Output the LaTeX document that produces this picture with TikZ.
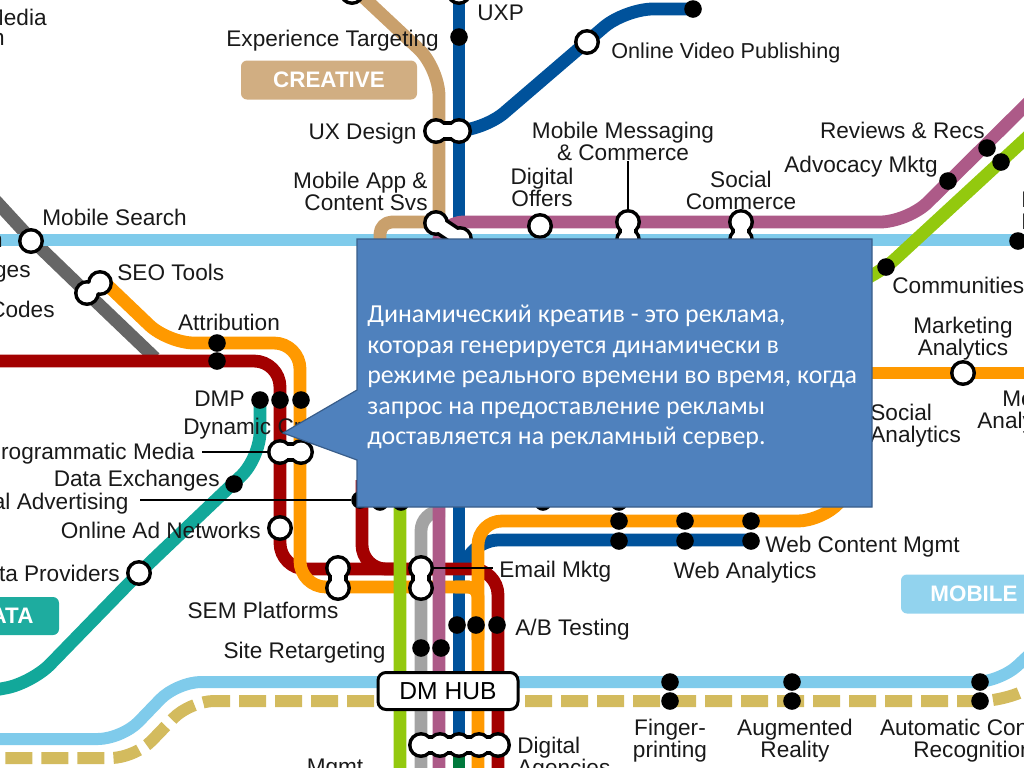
\documentclass[tikz,border=0pt]{standalone}
\usepackage{fontspec}
\setmainfont{Liberation Sans}
\newfontfamily\calloutfont{Carlito}
\usetikzlibrary{arrows.meta,positioning,calc}
\definecolor{lnGrey}{HTML}{666666}
\definecolor{lnSilver}{HTML}{A3A3A3}
\definecolor{lnTan}{HTML}{C9A06C}
\definecolor{lnSky}{HTML}{7FCBEB}
\definecolor{lnBlue}{HTML}{00529B}
\definecolor{lnGreen}{HTML}{007A3D}
\definecolor{lnRed}{HTML}{A30000}
\definecolor{lnOrange}{HTML}{FF9900}
\definecolor{lnPlum}{HTML}{AD5A88}
\definecolor{lnLime}{HTML}{93C90E}
\definecolor{lnTeal}{HTML}{12A89A}
\definecolor{lnKhaki}{HTML}{D3BB5E}
\definecolor{boxBlue}{HTML}{4F81BD}
\definecolor{boxEdge}{HTML}{385D8A}
\tikzset{
  metro/.style={draw=#1, line width=6.4pt, line join=round},
  stndot/.style={circle, fill=black, inner sep=0pt, minimum size=8.8pt},
  ringout/.style={circle, fill=black, inner sep=0pt, minimum size=13pt},
  ringin/.style={circle, fill=white, inner sep=0pt, minimum size=9.4pt},
  neckout/.style={draw=black, line width=9.6pt},
  neckin/.style={draw=white, line width=6pt},
  lbl/.style={inner sep=0pt, text=black!90, font=\fontsize{11.3}{11}\selectfont},
  lbllong/.style={lbl, align=center},
  tagbox/.style={rectangle, rounded corners=3pt, fill=#1, text=white, inner sep=0pt,
                 font=\fontsize{11.2}{11}\selectfont\bfseries},
  leader/.style={draw=black, line width=0.75pt},
}
\begin{document}
\begin{tikzpicture}[x=0.5pt, y=-0.5pt]
  \useasboundingbox (0,0) rectangle (1024,767);
  \clip (0,0) rectangle (1024,767);
  % lines
  \draw[metro=lnGrey] (-5,200) -- (30,238) -- (87,293) -- (155,358);
  \draw[metro=lnSky, line width=6pt] (-5,240) -- (1030,240);
  \draw[metro=lnSky, line width=6pt, rounded corners=12pt] (-5,739) -- (122,739) -- (177,682) -- (400,682);
  \draw[metro=lnSky, line width=6pt, rounded corners=12pt] (500,682) -- (1000,682) -- (1045,640);
  \draw[metro=lnKhaki, line width=6pt, dash pattern=on 13.5pt off 4.5pt, rounded corners=12pt] (374,701) -- (190,701) -- (135,758) -- (-5,758);
  \draw[metro=lnKhaki, line width=6pt, dash pattern=on 13.5pt off 4.5pt, rounded corners=12pt] (525,701) -- (1005,701) -- (1045,680);
  \draw[metro=lnTan, rounded corners=14pt] (345,-20) -- (439,68) -- (439,222);
  \draw[metro=lnTan, rounded corners=6pt] (436,222) -- (380,222) -- (380,250);
  \draw[metro=lnBlue] (459,-5) -- (459,750);
  \draw[metro=lnGreen] (459,750) -- (459,772);
  \draw[metro=lnBlue, rounded corners=14pt] (459,131) -- (483,131) -- (625,9) -- (693,9);
  \draw[metro=lnBlue, rounded corners=8pt] (751,540) -- (482,540) -- (459,568);
  \draw[metro=lnRed, rounded corners=13pt] (-5,361) -- (280,361) -- (280,569) -- (498,569) -- (498,772);
  \draw[metro=lnRed, rounded corners=12pt] (362,480) -- (362,569) -- (405,569);
  \draw[metro=lnOrange, rounded corners=13pt] (100,278) -- (168,343) -- (300,343) -- (300,587) -- (470,587);
  \draw[metro=lnOrange, rounded corners=5pt] (455,587) -- (478,587) -- (478,640);
  \draw[metro=lnOrange] (1030,373) -- (800,373);
  \draw[metro=lnOrange, rounded corners=12pt] (860,480) -- (822,521) -- (478,521) -- (478,772);
  \draw[metro=lnTeal, rounded corners=13pt] (260,395) -- (260,458) -- (139,573) -- (32,683) -- (-5,690);
  \draw[metro=lnSilver, rounded corners=10pt] (445,511) -- (421,511) -- (421,772);
  \draw[metro=lnPlum, rounded corners=14pt] (1040,91) -- (908,222) -- (436,222) -- (439,300) -- (439,772);
  \draw[metro=lnLime, rounded corners=10pt] (1035,130) -- (880,273) -- (400,470) -- (400,772);
  % stations
  \def\ringlist{ringTarget/352/-8, ringUxpTop/459/-8, ringVideo/587/42,
    ringUxA/436/131, ringUxB/459/131, ringAppA/436/223, ringAppB/460/239,
    ringOffers/540/226, ringMsgA/628/222, ringMsgB/628/240, ringComA/741/222, ringComB/741/240,
    ringSearch/31/241, ringSeoA/87/293, ringSeoB/100/283, ringMktAn/963/373,
    ringProgA/280/452, ringProgB/301/452, ringNetw/280/528, ringProv/139/573,
    ringSemA/338/568, ringSemB/338/588, ringMailA/421/568, ringMailB/421/588,
    ringDigA/421/745, ringDigB/440/745, ringDigC/459/745, ringDigD/479/745, ringDigE/498/745}
  \def\necklist{ringUxA/ringUxB, ringAppA/ringAppB, ringMsgA/ringMsgB, ringComA/ringComB, ringSeoA/ringSeoB,
    ringProgA/ringProgB, ringSemA/ringSemB, ringMailA/ringMailB,
    ringDigA/ringDigB, ringDigB/ringDigC, ringDigC/ringDigD, ringDigD/ringDigE}
  \foreach \n/\x/\y in \ringlist {\node[ringout] (\n) at (\x,\y) {};}
  \foreach \a/\b in \necklist {\draw[neckout] (\a.center) -- (\b.center);}
  \foreach \n/\x/\y in \ringlist {\node[ringin] (\n-in) at (\x,\y) {};}
  \foreach \a/\b in \necklist {\draw[neckin] (\a.center) -- (\b.center);}
  \foreach \n/\x/\y in {dotUx/459/37, dotVideo/693/9, dotRevs/987/148, dotRevsB/1001/162, dotAdvo/948/181,
      dotComm/886/267, dotEdge/1018/241, dotAttrA/217/343, dotAttrB/217/361,
      dotDmpA/260/400, dotDmpB/280/400, dotDmpC/301/400, dotExch/234/484,
      dotAdv/360/500, dotAdvB/380/502, dotAdvC/401/502, dotPeekA/543/502, dotPeekB/619/502,
      dotWebA/619/521, dotWebB/619/541, dotWebC/685/521, dotWebD/685/541, dotWebE/751/521, dotWebF/751/541,
      dotAbA/457/625, dotAbB/476/625, dotAbC/497/625, dotSiteA/421/648, dotSiteB/441/648,
      dotFpA/670/682, dotFpB/670/701, dotArA/792/682, dotArB/792/701, dotAcA/980/682, dotAcB/980/701}
    {\node[stndot] (\n) at (\x,\y) {};}
  \node[rectangle, rounded corners=4pt, draw=black, line width=1.5pt, fill=white,
        minimum width=70pt, minimum height=18.5pt, inner sep=0pt,
        font=\fontsize{12.3}{13}\selectfont] (hub) at (448,691) {DM HUB};
  % tags
  \node[tagbox=lnTan!85!white, minimum width=88pt, minimum height=19.5pt] (tagCreative) at (329,80) {CREATIVE};
  \node[tagbox=lnTeal!95!white, minimum width=55pt, minimum height=19pt] (tagData) at (4,616) {DATA};
  \node[tagbox=lnSky!85!white, minimum width=73pt, minimum height=19.5pt] (tagMobile) at (974,594) {MOBILE};
  % labels
  \node[lbl, anchor=east] (lMedia) at (47,17) {Media};
  \node[lbl, anchor=east] (lCut) at (5,39) {n};
  \node[lbl, anchor=east] (lCutB) at (3,241) {n};
  \node[lbl, anchor=east] (lAges) at (31,274) {ges};
  \node[lbl, anchor=east] (lCodes) at (55,309) {Codes};
  \node[lbl, anchor=west] (lTarget) at (226,41) {Experience Targeting};
  \node[lbl, anchor=west] (lUxp) at (477,13) {UXP};
  \node[lbl, anchor=west, font=\fontsize{10.8}{11}\selectfont] (lVideo) at (611,53) {Online Video Publishing};
  \node[lbl, anchor=east] (lUx) at (417,134) {UX Design};
  \node[lbl, align=right, anchor=east] (lApp) at (428,191) {Mobile App \&\\Content Svs};
  \node[lbllong] (lOffers) at (542,187) {Digital\\Offers};
  \node[lbllong] (lMsg) at (623,141) {Mobile Messaging\\\& Commerce};
  \node[lbllong] (lCom) at (741,190) {Social\\Commerce};
  \node[lbl, anchor=east] (lRevs) at (985,130) {Reviews \& Recs};
  \node[lbl, anchor=east] (lAdvo) at (938,167) {Advocacy Mktg};
  \node[lbl, anchor=west] (lComm) at (892,285) {Communities};
  \node[lbl, anchor=west] (lEdgeA) at (1021,200) {M};
  \node[lbl, anchor=west] (lEdgeB) at (1021,222) {M};
  \node[lbl, anchor=west] (lSearch) at (42,217) {Mobile Search};
  \node[lbl, anchor=west] (lSeo) at (117,272) {SEO Tools};
  \node[lbl] (lAttr) at (229,322) {Attribution};
  \node[lbl, anchor=east] (lDmp) at (245,399) {DMP};
  \node[lbl, anchor=west] (lDyn) at (183,429) {Dynamic Creative};
  \node[lbl, anchor=east] (lProg) at (195,454) {Programmatic Media};
  \node[lbl, anchor=east] (lExch) at (220,481) {Data Exchanges};
  \node[lbl, anchor=east] (lAdv) at (129,504) {Digital Advertising};
  \node[lbl, anchor=east] (lNetw) at (261,530) {Online Ad Networks};
  \node[lbl, anchor=east] (lProv) at (120,573) {Data Providers};
  \node[lbl] (lSem) at (263,610) {SEM Platforms};
  \node[lbl, anchor=east] (lSite) at (386,653) {Site Retargeting};
  \node[lbl] (lMgmt) at (335,769) {Mgmt};
  \node[lbl, anchor=west] (lMail) at (499,572) {Email Mktg};
  \node[lbl, anchor=west] (lAb) at (515,630) {A/B Testing};
  \node[lbl, align=left, anchor=west] (lAgency) at (517,759) {Digital\\Agencies};
  \node[lbllong] (lFinger) at (670,741) {Finger-\\printing};
  \node[lbllong] (lAug) at (795,741) {Augmented\\Reality};
  \node[lbllong] (lAuto) at (973,741) {Automatic Content\\Recognition};
  \node[lbl, anchor=west] (lWebC) at (765,547) {Web Content Mgmt};
  \node[lbl] (lWebA) at (745,573) {Web Analytics};
  \node[lbl, align=left, anchor=west] (lSoc) at (870,426) {Social\\Analytics};
  \node[lbllong] (lMkt) at (963,339) {Marketing\\Analytics};
  \node[lbl, anchor=west] (lMo) at (1002,398) {Mobile};
  \node[lbl, anchor=west] (lAna) at (977,423) {Analytics};
  % leaders
  \draw[leader] (lMsg.south -| ringMsgA) -- (ringMsgA.north);
  \draw[leader] ($(lProg.east)+(7,-2)$) -- (ringProgA.west);
  \draw[leader] ($(lAdv.east)+(11,-4)$) -- (dotAdv);
  \draw[leader] (ringMailA.east) -- ($(lMail.west)+(-6,-4)$);
  % callout
  \draw[fill=boxBlue, draw=boxEdge, line width=0.6pt] (357,239) -- (872,239) -- (872,507) -- (357,507)
    -- (357,460) -- (283,433) -- (357,390) -- cycle;
  \node[anchor=west, inner sep=0pt, align=left, text=white, font=\calloutfont\fontsize{12.95}{15.25}\selectfont] (note) at (367,377)
    {Динамический креатив - это реклама,\\которая генерируется динамически в\\режиме реального времени во время, когда\\запрос на предоставление рекламы\\доставляется на рекламный сервер.};
\end{tikzpicture}
\end{document}
